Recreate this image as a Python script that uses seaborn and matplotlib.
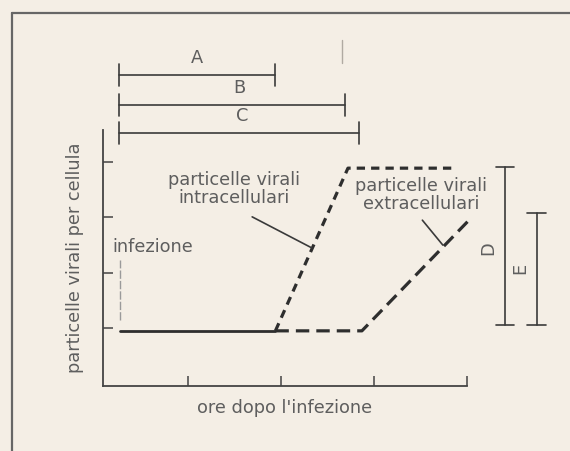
import matplotlib
matplotlib.use("Agg")
import matplotlib.pyplot as plt
import seaborn as sns
import pandas as pd
from matplotlib.lines import Line2D

# curve dati (unità arbitrarie)
solid_x = [0.27, 1.94]
solid_y = [0.95, 0.95]
intra_x = [1.94, 2.72, 3.89]
intra_y = [0.95, 3.89, 3.89]
extra_x = [1.94, 2.87, 4.05]
extra_y = [0.95, 0.95, 3.0]

# intervalli A, B, C (orizzontali)
span_labels = ["A", "B", "C"]
span_label_x = [1.10, 1.55, 1.58]
span_start = [0.26, 0.26, 0.26]
span_end = [1.94, 2.69, 2.84]
span_y = [5.58, 5.03, 4.53]

# intervalli D, E (verticali)
bar_labels = ["D", "E"]
bar_x = [4.41, 4.75]
bar_lo = [1.06, 1.06]
bar_hi = [3.91, 3.08]

ticks = [1, 2, 3, 4]

bg = "#f4eee5"
ink = "#2e2e2e"
txt = "#5e5e5e"
fs = 12.8

sns.set_style("ticks")
plt.rcParams["font.family"] = ["DejaVu Sans"]

fig = plt.figure(figsize=(5.7, 4.51), dpi=100, facecolor=bg)
ax = fig.add_axes([0.1807, 0.1441, 0.6386, 0.5677])
ax.set_facecolor(bg)

df_solid = pd.DataFrame({"x": solid_x, "y": solid_y})
df_intra = pd.DataFrame({"x": intra_x, "y": intra_y})
df_extra = pd.DataFrame({"x": extra_x, "y": extra_y})

sns.lineplot(data=df_solid, x="x", y="y", ax=ax, color=ink, lw=2.0,
             sort=False, estimator=None)
sns.lineplot(data=df_intra, x="x", y="y", ax=ax, color=ink, lw=2.3,
             sort=False, estimator=None, clip_on=False,
             linestyle=(0, (2.6, 1.9)))
sns.lineplot(data=df_extra, x="x", y="y", ax=ax, color=ink, lw=2.3,
             sort=False, estimator=None, clip_on=False,
             linestyle=(0, (4.2, 2.2)))

ax.set_xlim(0.086, 4.0)
ax.set_ylim(-0.047, 4.58)
ax.set_xticks(ticks)
ax.set_yticks(ticks)
ax.set_xticklabels([])
ax.set_yticklabels([])
ax.tick_params(direction="in", length=7.5, width=1.1, color="#444444")
sns.despine(ax=ax)
for s in ["left", "bottom"]:
    ax.spines[s].set_color("#444444")
    ax.spines[s].set_linewidth(1.3)

ax.set_xlabel("ore dopo l'infezione", fontsize=fs, color=txt, labelpad=6)
ax.set_ylabel("particelle virali per cellula", fontsize=fs, color=txt,
              labelpad=10)

# barre A, B, C
for lab, lx, x0, x1, y in zip(span_labels, span_label_x, span_start,
                              span_end, span_y):
    ax.plot([x0, x1], [y, y], color="#3a3a3a", lw=1.2, clip_on=False)
    for xx in (x0, x1):
        ax.plot([xx, xx], [y - 0.2, y + 0.2], color="#3a3a3a", lw=1.2,
                clip_on=False)
    ax.text(lx, y + 0.3, lab, ha="center", va="center", fontsize=fs,
            color=txt)

# barre D, E
for lab, x, lo, hi in zip(bar_labels, bar_x, bar_lo, bar_hi):
    ax.plot([x, x], [lo, hi], color="#3a3a3a", lw=1.2, clip_on=False)
    for yy in (lo, hi):
        ax.plot([x - 0.1, x + 0.1], [yy, yy], color="#3a3a3a", lw=1.2,
                clip_on=False)
    ax.text(x - 0.18, (lo + hi) / 2 - (0.05 if lab == "D" else 0), lab,
            rotation=90, ha="center", va="center", fontsize=fs, color=txt,
            clip_on=False)

# infezione
ax.text(0.19, 2.46, "infezione", ha="left", va="center", fontsize=fs,
        color=txt)
ax.plot([0.27, 0.27], [1.14, 2.23], color="#9a9a9a", lw=1.0,
        linestyle=(0, (6, 1.5)))

# etichette curve
ax.text(1.49, 3.51, "particelle virali\nintracellulari", ha="center",
        va="center", fontsize=fs, color=txt, linespacing=1.0)
ax.plot([1.69, 2.33], [3.01, 2.45], color="#3a3a3a", lw=1.2)
ax.text(3.51, 3.40, "particelle virali\nextracellulari", ha="center",
        va="center", fontsize=fs, color=txt, linespacing=1.0, clip_on=False)
ax.plot([3.52, 3.74], [2.95, 2.5], color="#3a3a3a", lw=1.2, clip_on=False)

# cornice della figura e piccolo segno di scansione
fig.add_artist(Line2D([12 / 570, 12 / 570], [0, 1 - 13 / 451],
                      transform=fig.transFigure, color="#666666", lw=1.6))
fig.add_artist(Line2D([12 / 570, 1], [1 - 13 / 451, 1 - 13 / 451],
                      transform=fig.transFigure, color="#666666", lw=1.6))
fig.add_artist(Line2D([342 / 570, 342 / 570], [1 - 40 / 451, 1 - 63 / 451],
                      transform=fig.transFigure, color="#b0aaa2", lw=1.0))

fig.savefig("out.png", dpi=100, facecolor=bg)
